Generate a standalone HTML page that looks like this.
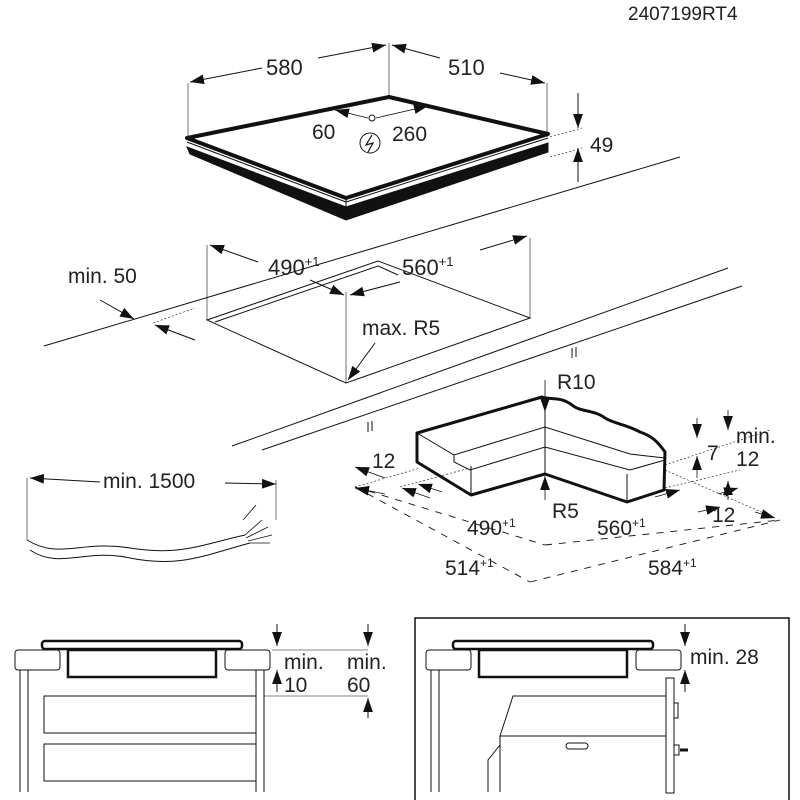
<!DOCTYPE html>
<html><head><meta charset="utf-8"><style>
html,body{margin:0;padding:0;background:#fff}
svg{display:block}
text{font-family:"Liberation Sans",sans-serif;fill:#222}
</style></head><body>
<svg width="800" height="800" viewBox="0 0 800 800" xmlns="http://www.w3.org/2000/svg">
<defs>
<marker id="a" viewBox="0 0 10 10" refX="10" refY="5" markerWidth="14" markerHeight="14" markerUnits="userSpaceOnUse" orient="auto-start-reverse"><path d="M0,1.5 L10,5 L0,8.5 z" fill="#111"/></marker>
</defs>
<g fill="none" stroke="#111" stroke-width="1">
<text x="628" y="20" font-size="19" stroke="none">2407199RT4</text>

<!-- Hob -->
<line x1="188" y1="83" x2="188" y2="140" stroke-width="0.6"/>
<line x1="547" y1="83" x2="547" y2="137" stroke-width="0.6"/>
<line x1="389" y1="43" x2="389" y2="98" stroke-width="0.6"/>
<line x1="262" y1="68" x2="190" y2="82" marker-end="url(#a)"/>
<line x1="318" y1="58" x2="386" y2="45" marker-end="url(#a)"/>
<line x1="440" y1="58" x2="392" y2="45" marker-end="url(#a)"/>
<line x1="500" y1="73" x2="545" y2="83" marker-end="url(#a)"/>
<text x="266" y="75" font-size="22" stroke="none">580</text>
<text x="448" y="75" font-size="22" stroke="none">510</text>
<polygon points="187,138 389,97 548,134 346,198" stroke-width="4" stroke-linejoin="round"/>
<polygon points="187,147 346,207 548,143 548,152 346,220 190,154" fill="#111"/>
<line x1="187" y1="142" x2="346" y2="202" stroke-width="1"/>
<line x1="346" y1="202" x2="548" y2="138"/>
<line x1="346" y1="200" x2="346" y2="218"/>
<line x1="368" y1="118" x2="335" y2="110" marker-end="url(#a)" stroke-width="0.8"/>
<line x1="376" y1="118" x2="428" y2="106" marker-end="url(#a)" stroke-width="0.8"/>
<circle cx="372" cy="118" r="3"/>
<text x="312" y="139" font-size="21" stroke="none">60</text>
<text x="392" y="141" font-size="21" stroke="none">260</text>
<circle cx="370" cy="143" r="10"/>
<path d="M372,135 L366,145 L373,143 L368,152" stroke-width="1.2"/>
<line x1="578" y1="93" x2="578" y2="128" marker-end="url(#a)"/>
<line x1="578" y1="182" x2="578" y2="148" marker-end="url(#a)"/>
<line x1="550" y1="137" x2="582" y2="128" stroke-dasharray="2,2" stroke-width="0.6"/>
<line x1="550" y1="157" x2="582" y2="148" stroke-dasharray="2,2" stroke-width="0.6"/>
<text x="590" y="152" font-size="21" stroke="none">49</text>

<!-- Worktop & cutout -->
<line x1="44" y1="346" x2="680" y2="157"/>
<line x1="232" y1="446" x2="728" y2="268"/>
<line x1="262" y1="450" x2="742" y2="286"/>
<line x1="153" y1="323" x2="195" y2="308" stroke-dasharray="2,2" stroke-width="0.6"/>
<line x1="100" y1="300" x2="134" y2="319" marker-end="url(#a)"/>
<line x1="195" y1="340" x2="155" y2="325" marker-end="url(#a)"/>
<text x="68" y="283" font-size="21" stroke="none">min. 50</text>
<polygon points="207,320 378,261 530,318 346,383"/>
<polyline points="215,322 378,266 398,275"/>
<line x1="207" y1="245" x2="207" y2="320" stroke-width="0.6"/>
<line x1="530" y1="238" x2="530" y2="318" stroke-width="0.6"/>
<line x1="346" y1="292" x2="346" y2="383" stroke-width="0.6"/>
<line x1="258" y1="262" x2="210" y2="245" marker-end="url(#a)"/>
<line x1="480" y1="250" x2="527" y2="236" marker-end="url(#a)"/>
<line x1="310" y1="280" x2="344" y2="295" marker-end="url(#a)"/>
<line x1="400" y1="282" x2="350" y2="295" marker-end="url(#a)"/>
<text x="268" y="275" font-size="22" stroke="none">490<tspan font-size="13" dy="-9">+1</tspan></text>
<text x="402" y="275" font-size="22" stroke="none">560<tspan font-size="13" dy="-9">+1</tspan></text>
<text x="362" y="335" font-size="21" stroke="none">max. R5</text>
<line x1="375" y1="343" x2="348" y2="380" marker-end="url(#a)"/>
<line x1="572" y1="348" x2="572" y2="358"/><line x1="576" y1="347" x2="576" y2="357"/>
<line x1="368" y1="422" x2="368" y2="432"/><line x1="372" y1="421" x2="372" y2="431"/>

<!-- Cable -->
<line x1="100" y1="482" x2="30" y2="478" marker-end="url(#a)"/>
<line x1="225" y1="483" x2="276" y2="484" marker-end="url(#a)"/>
<text x="103" y="488" font-size="21" stroke="none">min. 1500</text>
<line x1="27" y1="478" x2="27" y2="540" stroke-width="0.6"/>
<line x1="276" y1="480" x2="276" y2="520" stroke-width="0.6"/>
<path d="M27,540 C60,560 80,540 130,548 C180,556 200,545 245,535"/>
<path d="M30,550 C60,570 85,548 130,558 C180,568 205,555 250,543"/>
<path d="M245,535 L262,520 M246,538 L268,527 M248,541 L272,535 M250,543 L270,543 M243,520 L256,505" stroke-width="0.8"/>

<!-- Profile block -->
<g stroke-width="3" stroke-linejoin="round">
<path d="M417,433 L542,397 C550,400 560,396 572,405 C580,412 595,410 605,418 C615,424 625,424 640,432 C652,436 658,442 665,452 L664,490 L627,502 L545,474 L471,495 L417,462 Z"/>
</g>
<polyline points="417,433 454,455 545,427 630,454 665,458"/>
<polyline points="454,455 454,462 470,470 545,447 630,470 665,460"/>
<line x1="545" y1="410" x2="545" y2="474"/>
<line x1="471" y1="466" x2="471" y2="495"/>
<line x1="627" y1="474" x2="627" y2="502"/>
<line x1="545" y1="380" x2="545" y2="412" marker-end="url(#a)" stroke-width="0.8"/>
<line x1="545" y1="500" x2="545" y2="476" marker-end="url(#a)" stroke-width="0.8"/>
<text x="557" y="389" font-size="21" stroke="none">R10</text>
<text x="552" y="518" font-size="21" stroke="none">R5</text>
<g stroke-dasharray="7,7" stroke-width="0.9">
<line x1="355" y1="487" x2="545" y2="545"/>
<line x1="545" y1="545" x2="780" y2="520"/>
<line x1="355" y1="487" x2="530" y2="582"/>
<line x1="530" y1="582" x2="780" y2="520"/>
</g>
<g stroke-dasharray="2,2" stroke-width="0.6">
<line x1="355" y1="487" x2="420" y2="468"/>
<line x1="400" y1="487" x2="470" y2="468"/>
<line x1="665" y1="465" x2="770" y2="430"/>
<line x1="665" y1="470" x2="775" y2="518"/>
<line x1="665" y1="488" x2="740" y2="470"/>
</g>
<line x1="385" y1="478" x2="355" y2="467" marker-end="url(#a)" stroke-width="0.8"/>
<line x1="385" y1="494" x2="355" y2="488" marker-end="url(#a)" stroke-width="0.8"/>
<line x1="430" y1="498" x2="402" y2="488" marker-end="url(#a)" stroke-width="0.8"/>
<line x1="442" y1="492" x2="418" y2="484" marker-end="url(#a)" stroke-width="0.8"/>
<text x="372" y="468" font-size="21" stroke="none">12</text>
<line x1="655" y1="497" x2="680" y2="490" marker-end="url(#a)" stroke-width="0.8"/>
<line x1="698" y1="512" x2="720" y2="507" marker-end="url(#a)" stroke-width="0.8"/>
<line x1="755" y1="512" x2="775" y2="518" marker-end="url(#a)" stroke-width="0.8"/>
<line x1="718" y1="494" x2="738" y2="488" marker-end="url(#a)" stroke-width="0.8"/>
<text x="712" y="522" font-size="21" stroke="none">12</text>
<line x1="697" y1="418" x2="697" y2="438" marker-end="url(#a)" stroke-width="0.8"/>
<line x1="697" y1="478" x2="697" y2="456" marker-end="url(#a)" stroke-width="0.8"/>
<line x1="728" y1="410" x2="728" y2="430" marker-end="url(#a)" stroke-width="0.8"/>
<line x1="728" y1="500" x2="728" y2="481" marker-end="url(#a)" stroke-width="0.8"/>
<text x="707" y="460" font-size="21" stroke="none">7</text>
<text x="736" y="443" font-size="21" stroke="none">min.</text>
<text x="736" y="466" font-size="21" stroke="none">12</text>
<text x="467" y="535" font-size="21" stroke="none">490<tspan font-size="12" dy="-8">+1</tspan></text>
<text x="597" y="535" font-size="21" stroke="none">560<tspan font-size="12" dy="-8">+1</tspan></text>
<text x="445" y="575" font-size="21" stroke="none">514<tspan font-size="12" dy="-8">+1</tspan></text>
<text x="648" y="575" font-size="21" stroke="none">584<tspan font-size="12" dy="-8">+1</tspan></text>

<!-- Bottom left -->
<rect x="42" y="641" width="200" height="8" rx="3" stroke-width="2.5"/>
<rect x="15" y="650" width="45" height="20" rx="3"/>
<rect x="225" y="650" width="45" height="20" rx="3"/>
<rect x="68" y="650" width="148" height="27" stroke-width="2.5"/>
<line x1="20" y1="670" x2="20" y2="792"/><line x1="28" y1="670" x2="28" y2="792"/>
<line x1="256" y1="670" x2="256" y2="792"/><line x1="264" y1="670" x2="264" y2="792"/>
<rect x="44" y="696" width="212" height="37"/>
<rect x="44" y="744" width="212" height="37"/>
<line x1="272" y1="650" x2="368" y2="650" stroke-width="0.6"/>
<line x1="264" y1="696" x2="368" y2="696" stroke-width="0.6"/>
<line x1="277" y1="624" x2="277" y2="646" marker-end="url(#a)"/>
<line x1="277" y1="692" x2="277" y2="670" marker-end="url(#a)"/>
<line x1="368" y1="624" x2="368" y2="646" marker-end="url(#a)"/>
<line x1="368" y1="718" x2="368" y2="698" marker-end="url(#a)"/>
<text x="284" y="669" font-size="21" stroke="none">min.</text>
<text x="347" y="669" font-size="21" stroke="none">min.</text>
<text x="284" y="692" font-size="21" stroke="none">10</text>
<text x="347" y="692" font-size="21" stroke="none">60</text>

<!-- Bottom right -->
<rect x="415" y="618" width="374" height="184" stroke-width="1.5"/>
<rect x="453" y="641" width="200" height="8" rx="3" stroke-width="2.5"/>
<rect x="426" y="650" width="45" height="20" rx="3"/>
<rect x="636" y="650" width="45" height="20" rx="3"/>
<rect x="479" y="650" width="148" height="27" stroke-width="2.5"/>
<line x1="431" y1="670" x2="431" y2="792"/><line x1="439" y1="670" x2="439" y2="792"/>
<line x1="685" y1="624" x2="685" y2="646" marker-end="url(#a)"/>
<line x1="685" y1="692" x2="685" y2="670" marker-end="url(#a)"/>
<text x="690" y="664" font-size="21" stroke="none">min. 28</text>
<rect x="666" y="678" width="8" height="115"/>
<rect x="674" y="703" width="4" height="15"/>
<rect x="674" y="745" width="5" height="10"/><line x1="680" y1="750" x2="688" y2="750" stroke-width="3"/>
<polyline points="666,696 513,696 500,736 666,736"/>
<polyline points="500,736 500,745 488,760 488,792"/>
<line x1="500" y1="745" x2="500" y2="792"/>
<rect x="566" y="743" width="22" height="6" rx="3"/>
</g>
</svg>
</body></html>
